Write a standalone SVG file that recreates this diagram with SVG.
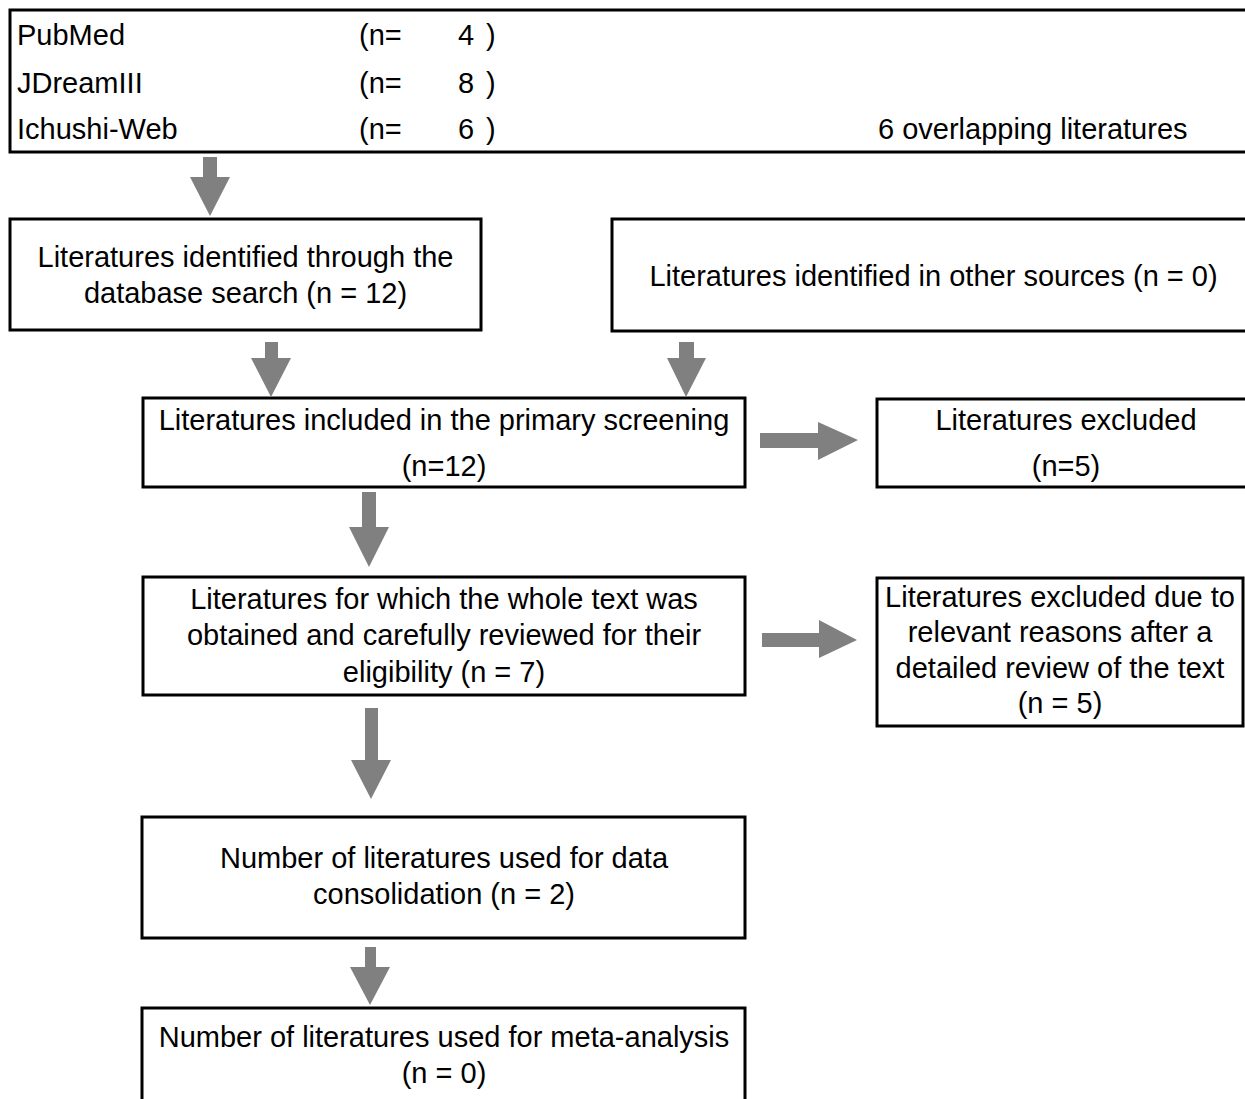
<svg xmlns="http://www.w3.org/2000/svg" width="1245" height="1099" viewBox="0 0 1245 1099">
<style>
.box{fill:#fff;stroke:#000;stroke-width:3}
.t{font-family:"Liberation Sans",Arial,sans-serif;font-size:29px;fill:#000}
.c{text-anchor:middle}
.arr{fill:#808080;stroke:none}
</style>
<rect width="1245" height="1099" fill="#fff"/>
<g id="sources">
<rect class="box" x="10" y="10" width="1250" height="142"/>
<text class="t" x="17" y="44.5">PubMed</text>
<text class="t" x="359" y="44.5">(n=</text>
<text class="t" x="458" y="44.5">4</text>
<text class="t" x="486" y="44.5">)</text>
<text class="t" x="17" y="92.5">JDreamIII</text>
<text class="t" x="359" y="92.5">(n=</text>
<text class="t" x="458" y="92.5">8</text>
<text class="t" x="486" y="92.5">)</text>
<text class="t" x="17" y="139">Ichushi-Web</text>
<text class="t" x="359" y="139">(n=</text>
<text class="t" x="458" y="139">6</text>
<text class="t" x="486" y="139">)</text>
<text class="t" x="878" y="139">6 overlapping literatures</text>
</g>
<g id="identified">
<rect class="box" x="10" y="219" width="471" height="111"/>
<text class="t c" x="245.5" y="267">Literatures identified through the</text>
<text class="t c" x="245.5" y="302.5">database search (n = 12)</text>
</g>
<g id="other">
<rect class="box" x="612" y="219" width="643" height="112"/>
<text class="t c" x="933.5" y="285.5">Literatures identified in other sources (n = 0)</text>
</g>
<g id="primary">
<rect class="box" x="143" y="398" width="602" height="89"/>
<text class="t c" x="444" y="430">Literatures included in the primary screening</text>
<text class="t c" x="444" y="475.5">(n=12)</text>
</g>
<g id="excluded1">
<rect class="box" x="877" y="399" width="378" height="88"/>
<text class="t c" x="1066" y="430">Literatures excluded</text>
<text class="t c" x="1066" y="475.5">(n=5)</text>
</g>
<g id="fulltext">
<rect class="box" x="143" y="577" width="602" height="118"/>
<text class="t c" x="444" y="608.5">Literatures for which the whole text was</text>
<text class="t c" x="444" y="645">obtained and carefully reviewed for their</text>
<text class="t c" x="444" y="681.5">eligibility (n = 7)</text>
</g>
<g id="excluded2">
<rect class="box" x="877" y="578" width="366" height="148"/>
<text class="t c" x="1060" y="606.5">Literatures excluded due to</text>
<text class="t c" x="1060" y="642">relevant reasons after a</text>
<text class="t c" x="1060" y="677.5">detailed review of the text</text>
<text class="t c" x="1060" y="713">(n = 5)</text>
</g>
<g id="consolidation">
<rect class="box" x="142" y="817" width="603" height="121"/>
<text class="t c" x="444" y="868">Number of literatures used for data</text>
<text class="t c" x="444" y="904">consolidation (n = 2)</text>
</g>
<g id="meta">
<rect class="box" x="142" y="1008" width="603" height="110"/>
<text class="t c" x="444" y="1047">Number of literatures used for meta-analysis</text>
<text class="t c" x="444" y="1083">(n = 0)</text>
</g>
<g id="connectors">
<polygon class="arr" points="203,157 217,157 217,177 230,177 210,216 190,177 203,177"/>
<polygon class="arr" points="265,342 278,342 278,358 291,358 271,397 251,358 265,358"/>
<polygon class="arr" points="679,342 694,342 694,358 706,358 686,397 667,358 679,358"/>
<polygon class="arr" points="362,492 376,492 376,527 389,527 369,567 349,527 362,527"/>
<polygon class="arr" points="365,708 378,708 378,760 391,760 371,799 351,760 365,760"/>
<polygon class="arr" points="365,947 376,947 376,967 390,967 370,1005 350,967 365,967"/>
<polygon class="arr" points="760,433 818,433 818,422 858,440 818,460 818,448 760,448"/>
<polygon class="arr" points="762,633 819,633 819,620 857,640 819,658 819,647 762,647"/>
</g>
</svg>
